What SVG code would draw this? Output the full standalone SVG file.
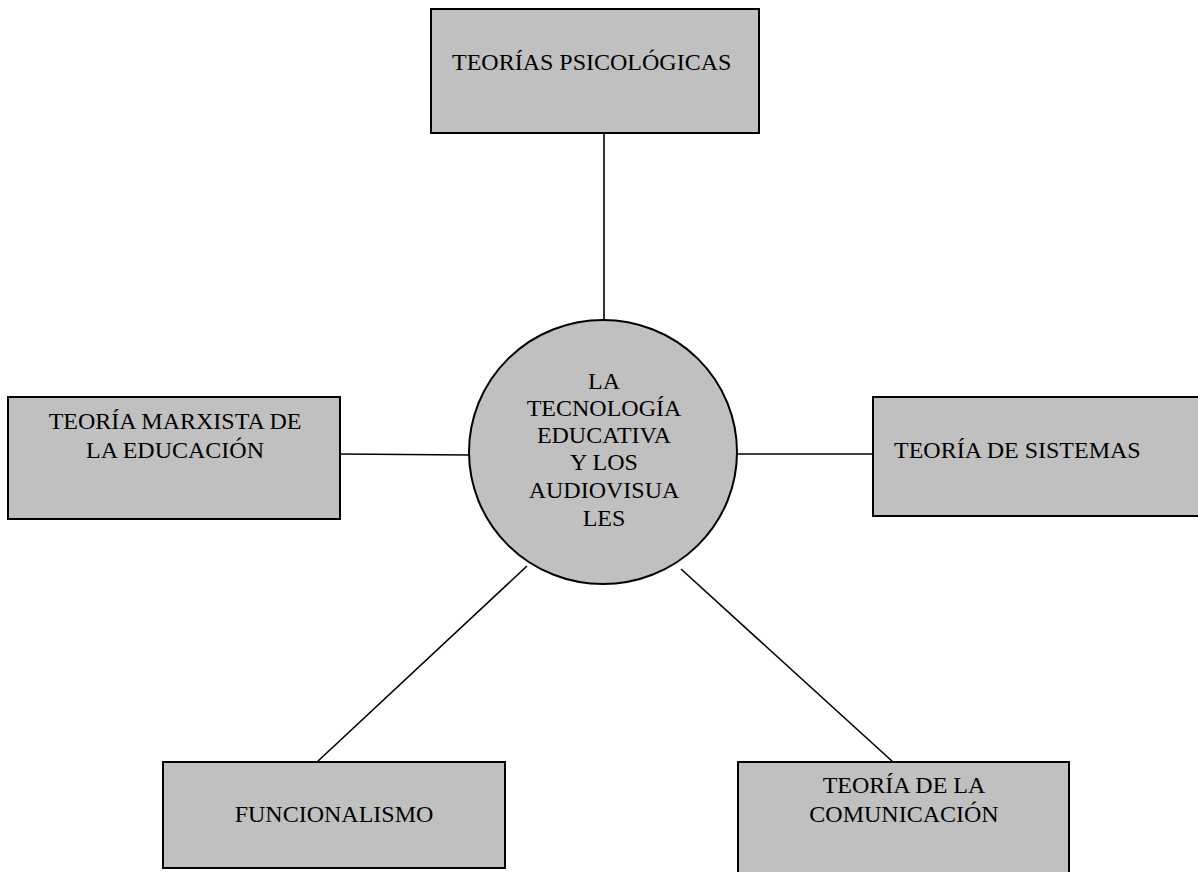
<svg xmlns="http://www.w3.org/2000/svg" width="1198" height="872" viewBox="0 0 1198 872">
<style>
.box{fill:#c0c0c0;stroke:#000;stroke-width:2}
.hub{fill:#c0c0c0;stroke:#000;stroke-width:2}
.t{font-family:"Liberation Serif","Times New Roman",serif;font-size:24px;fill:#000}
.c{text-anchor:middle}
.conn line{stroke:#000;stroke-width:1.6}
</style>
<rect width="1198" height="872" fill="#fff"/>
<g id="connectors" class="conn">
<line x1="604" y1="133" x2="604" y2="337"/>
<line x1="340" y1="454" x2="469" y2="455"/>
<line x1="737" y1="454" x2="873" y2="454"/>
<line x1="527" y1="566" x2="317" y2="762"/>
<line x1="681" y1="569" x2="893" y2="762"/>
</g>
<g id="hub">
<ellipse class="hub" cx="603" cy="452" rx="134" ry="132"/>
<text class="t c" x="604" y="389">LA</text>
<text class="t c" x="604" y="416">TECNOLOGÍA</text>
<text class="t c" x="604" y="443">EDUCATIVA</text>
<text class="t c" x="604" y="470">Y LOS</text>
<text class="t c" x="604" y="498">AUDIOVISUA</text>
<text class="t c" x="604" y="526">LES</text>
</g>
<g id="n-psicologicas">
<rect class="box" x="431" y="9" width="328" height="124"/>
<text class="t" x="452" y="70">TEORÍAS PSICOLÓGICAS</text>
</g>
<g id="n-marxista">
<rect class="box" x="8" y="397" width="332" height="122"/>
<text class="t c" x="175" y="429">TEORÍA MARXISTA DE</text>
<text class="t c" x="175" y="458">LA EDUCACIÓN</text>
</g>
<g id="n-sistemas">
<rect class="box" x="873" y="397" width="340" height="119"/>
<text class="t" x="894" y="458">TEORÍA DE SISTEMAS</text>
</g>
<g id="n-funcionalismo">
<rect class="box" x="163" y="762" width="342" height="106"/>
<text class="t c" x="334" y="822">FUNCIONALISMO</text>
</g>
<g id="n-comunicacion">
<rect class="box" x="738" y="762" width="331" height="130"/>
<text class="t c" x="904" y="793">TEORÍA DE LA</text>
<text class="t c" x="904" y="822">COMUNICACIÓN</text>
</g>
</svg>
